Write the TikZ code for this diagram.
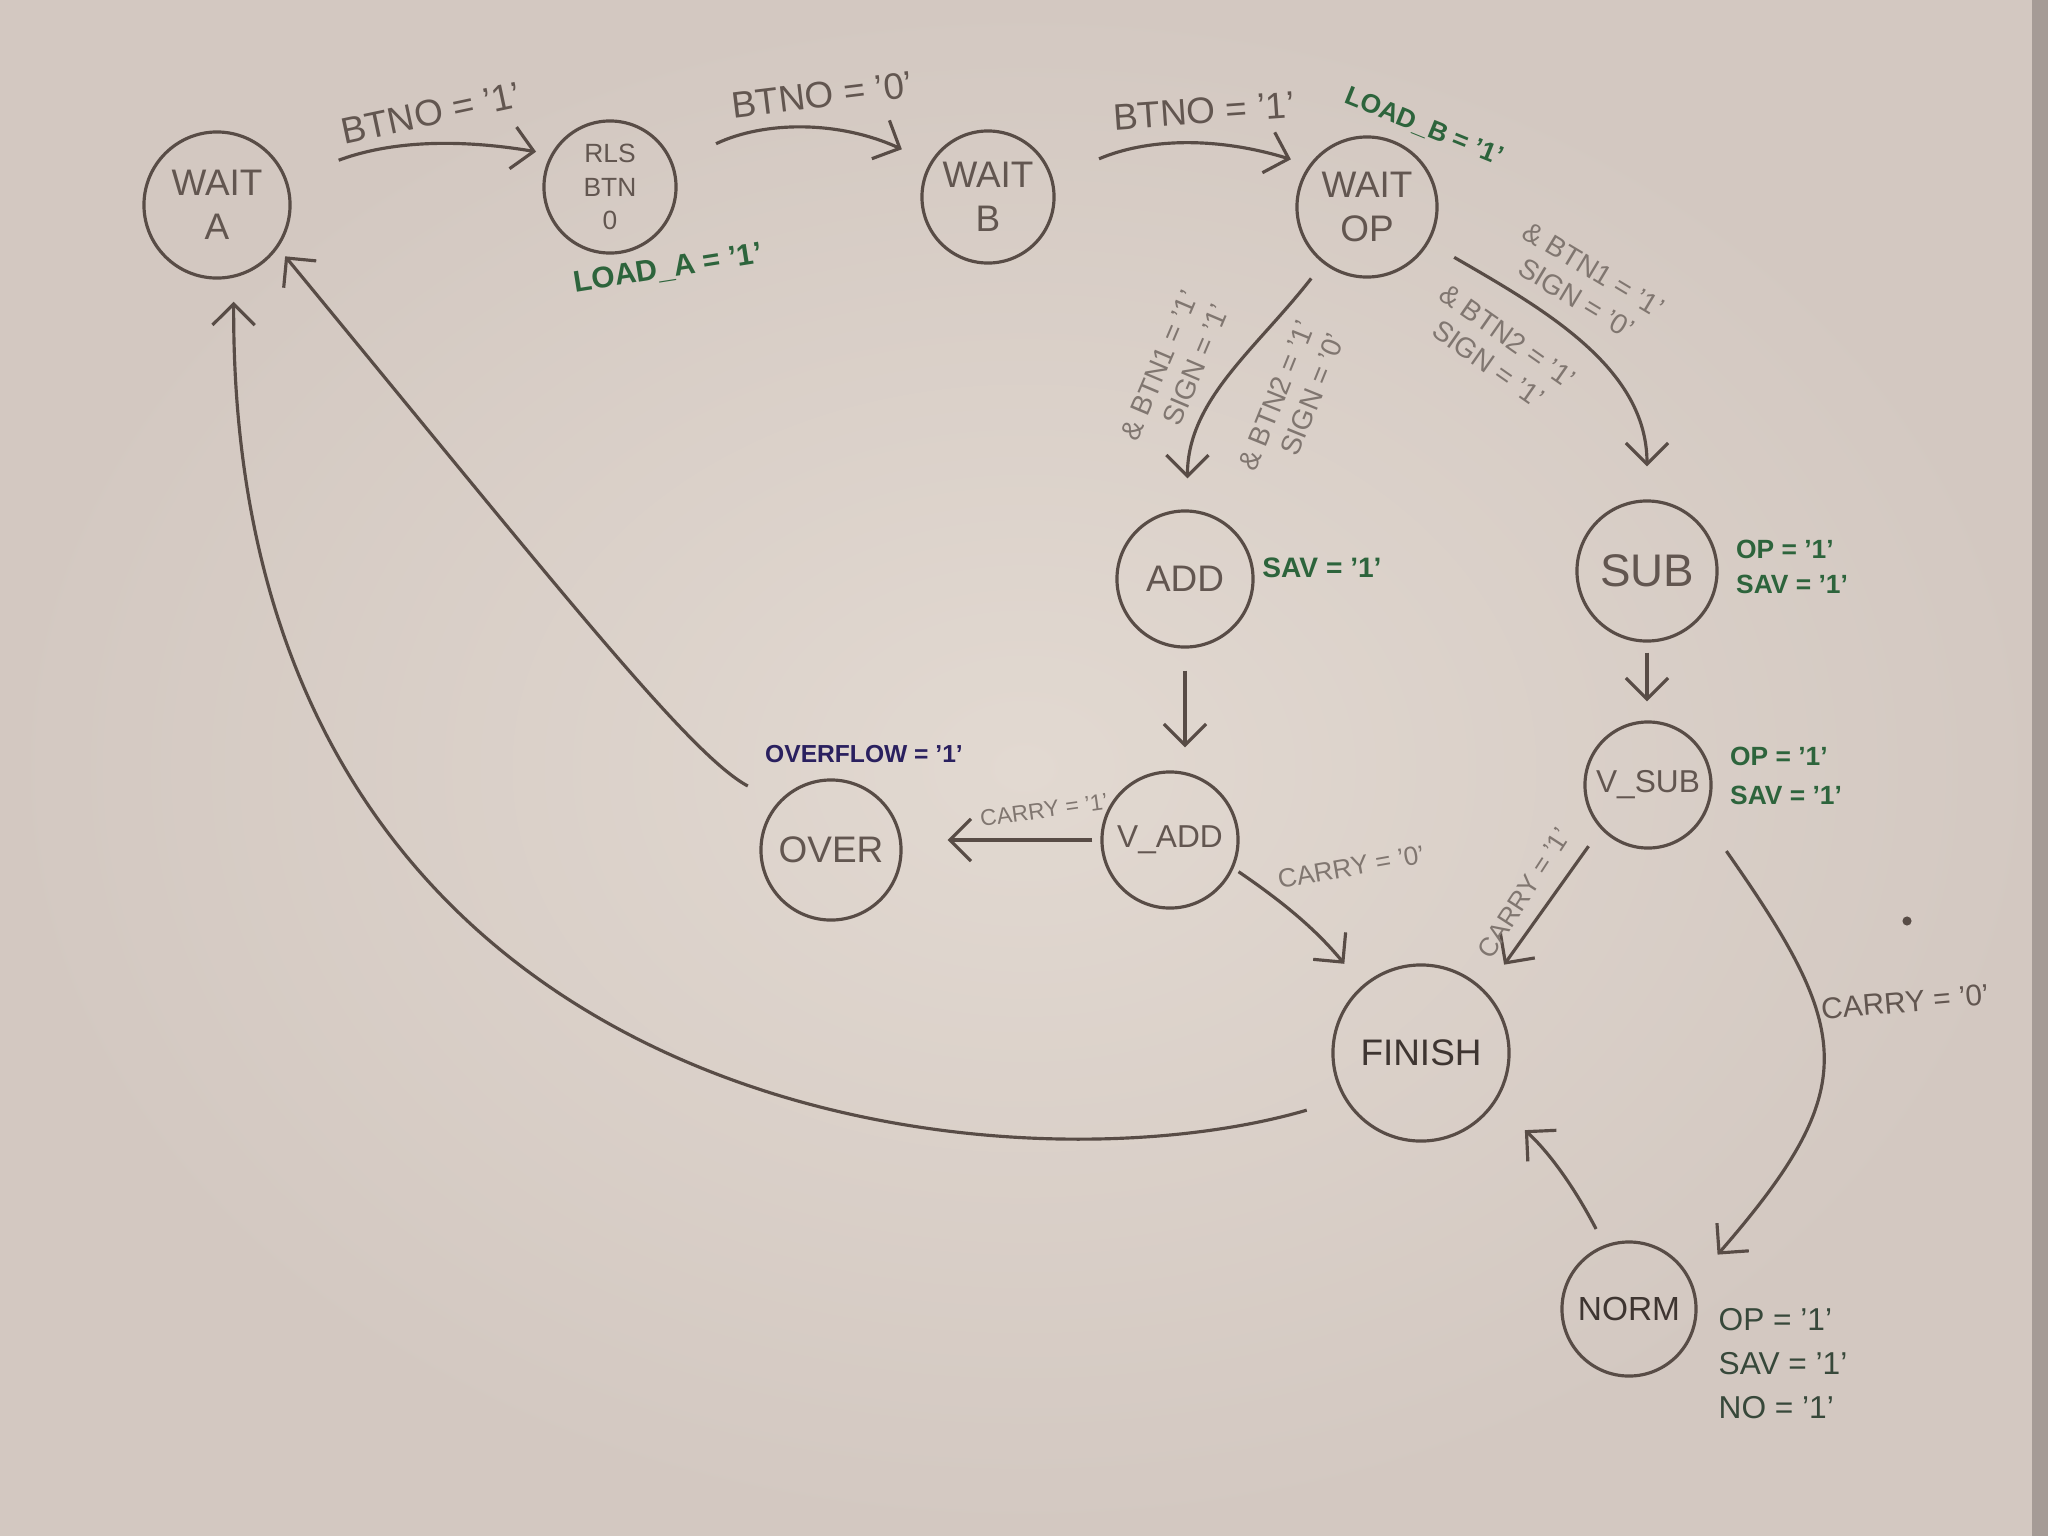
\documentclass[tikz,border=0pt]{standalone}
\usepackage{fontspec}
\setmainfont{Liberation Sans}
\usetikzlibrary{arrows.meta}
\definecolor{paperin}{RGB}{226,217,209}
\definecolor{paperout}{RGB}{211,200,193}
\definecolor{paperedge}{RGB}{165,155,150}
\definecolor{pencil}{RGB}{88,76,70}
\definecolor{pentext}{RGB}{98,86,80}
\definecolor{lighttext}{RGB}{128,118,112}
\definecolor{greenink}{RGB}{45,100,60}
\definecolor{darkgreen}{RGB}{55,72,58}
\definecolor{blueink}{RGB}{42,32,95}
\begin{document}
\begin{tikzpicture}[x=0.01cm,y=-0.01cm,
  state/.style={circle,draw=pencil,line width=0.9pt,text=pentext,
    font=\fontsize{10.5}{12.5}\selectfont,align=center,inner sep=0pt},
  tr/.style={draw=pencil,line width=0.9pt,-{Straight Barb[length=6pt,width=12pt]}},
  lbl/.style={text=pentext,font=\fontsize{10.5}{12}\selectfont,inner sep=0pt},
  sml/.style={text=lighttext,font=\fontsize{8}{9.5}\selectfont,inner sep=0pt,align=right},
  grn/.style={text=greenink,font=\bfseries\fontsize{8.5}{10.5}\selectfont,inner sep=0pt,align=left},
]
\shade[inner color=paperin,outer color=paperout] (0,0) rectangle (2048,1536);
\fill[paperedge] (2032,0) rectangle (2048,1536);
\useasboundingbox (0,0) rectangle (2048,1536);

% states
\node[state,minimum size=1.46cm] (WA) at (217,205) {WAIT\\A};
\node[state,minimum size=1.32cm,font=\fontsize{7.5}{9.5}\selectfont] (RLS) at (610,187) {RLS\\BTN\\0};
\node[state,minimum size=1.32cm] (WB) at (988,197) {WAIT\\B};
\node[state,minimum size=1.4cm] (WOP) at (1367,207) {WAIT\\OP};
\node[state,minimum size=1.36cm] (ADD) at (1185,579) {ADD};
\node[state,minimum size=1.4cm,font=\fontsize{13}{14}\selectfont] (SUB) at (1647,571) {SUB};
\node[state,minimum size=1.26cm,font=\fontsize{9}{10}\selectfont] (VSUB) at (1648,785) {V\_SUB};
\node[state,minimum size=1.36cm,font=\fontsize{9}{10}\selectfont] (VADD) at (1170,840) {V\_ADD};
\node[state,minimum size=1.4cm] (OVER) at (831,850) {OVER};
\node[state,minimum size=1.76cm,text=pencil!70!black] (FIN) at (1421,1053) {FINISH};
\node[state,minimum size=1.34cm,text=pencil!70!black,font=\fontsize{9.5}{11}\selectfont] (NORM) at (1629,1309) {NORM};

% transitions
\draw[tr,shorten <=0.55cm,shorten >=0.15cm] (WA.20) to[bend left=15] (RLS.151);
\draw[tr,shorten <=0.47cm,shorten >=0.31cm] (RLS.20) to[bend left=25] (WB.149);
\draw[tr,shorten <=0.5cm,shorten >=0.19cm] (WB.16) to[bend left=20] (WOP.144);
\draw[tr,shorten <=0.19cm,shorten >=0.31cm] (WOP.232) to[out=232,in=90] (ADD.88);
\draw[tr,shorten <=0.29cm,shorten >=0.33cm] (WOP.-30) to[out=-30,in=90] (SUB.90);
\draw[tr,shorten <=0.22cm,shorten >=0.23cm] (ADD.south) -- (ADD.south |- VADD.north);
\draw[tr,shorten <=0.1cm,shorten >=0.19cm] (SUB.south) -- (SUB.south |- VSUB.north);
\draw[tr,shorten <=0.08cm,shorten >=0.45cm] (VADD.west) -- (VADD.west -| OVER.east);
\draw[tr,shorten <=0.06cm,shorten >=0.28cm] (VADD.-24) to[bend left=8] (FIN.131);
\draw[tr,shorten <=0.21cm,shorten >=0.32cm] (VSUB.223) -- (FIN.44);
\draw[tr,shorten <=0.4cm,shorten >=0.38cm] (VSUB.-31) .. controls +(-55:2.6cm) and +(49:2.6cm) .. (NORM.22);
\draw[tr,shorten <=0.18cm,shorten >=0.4cm] (NORM.111) to[bend right=10] (FIN.-34);
\draw[tr,shorten <=0.39cm,shorten >=0.24cm] (FIN.211) .. controls (1000,1200) and (230,1120) .. (WA.-77);
\draw[tr,shorten <=0.34cm,shorten >=0.11cm] (OVER.138) .. controls (690,755) and (560,590) .. (WA.-35);

% transition labels
\node[lbl,rotate=12] (l1) at (431,113) {BTNO = '1'};
\node[lbl,rotate=7] (l2) at (822,95) {BTNO = '0'};
\node[lbl,rotate=4] (l3) at (1204,111) {BTNO = '1'};
\node[sml,rotate=67] (addl) at (1175,372) {\& BTN1 = '1'\\SIGN = '1'};
\node[sml,rotate=68] (addr) at (1292,402) {\& BTN2 = '1'\\SIGN = '0'};
\node[sml,rotate=-31,align=center,font=\fontsize{8}{9.5}\selectfont] (subu) at (1585,284) {\& BTN1 = '1'\\SIGN = '0'};
\node[sml,rotate=-35,align=center,font=\fontsize{8}{9.5}\selectfont] (subl) at (1498,350) {\& BTN2 = '1'\\SIGN = '1'};
\node[sml,rotate=8,font=\fontsize{6.5}{8}\selectfont] (c1) at (1044,810) {CARRY = '1'};
\node[sml,rotate=10,font=\fontsize{7.5}{9}\selectfont] (c0) at (1351,867) {CARRY = '0'};
\node[sml,rotate=57,font=\fontsize{7.5}{9}\selectfont] (c1b) at (1524,893) {CARRY = '1'};
\node[lbl,rotate=5,font=\fontsize{8.5}{10}\selectfont] (c0b) at (1905,1002) {CARRY = '0'};

% outputs
\node[grn,rotate=-22,font=\bfseries\fontsize{7.5}{9}\selectfont] (lb) at (1424,127) {LOAD\_B = '1'};
\node[grn,rotate=9] (la) at (668,269) {LOAD\_A = '1'};
\node[grn,font=\bfseries\fontsize{8}{10}\selectfont] (sav1) at (1322,568) {SAV = '1'};
\node[grn,font=\bfseries\fontsize{7.5}{10}\selectfont] (subo) at (1792,567) {OP = '1'\\SAV = '1'};
\node[grn,font=\bfseries\fontsize{7.5}{11}\selectfont] (vsubo) at (1786,776) {OP = '1'\\SAV = '1'};
\node[text=blueink,font=\bfseries\fontsize{7}{9}\selectfont,inner sep=0pt] (ovf) at (864,754) {OVERFLOW = '1'};
\node[grn,text=darkgreen,font=\fontsize{9}{12.5}\selectfont] (normo) at (1783,1364) {OP = '1'\\SAV = '1'\\NO = '1'};

\fill[pencil] (1907,921) circle (1.3pt);
\end{tikzpicture}
\end{document}
